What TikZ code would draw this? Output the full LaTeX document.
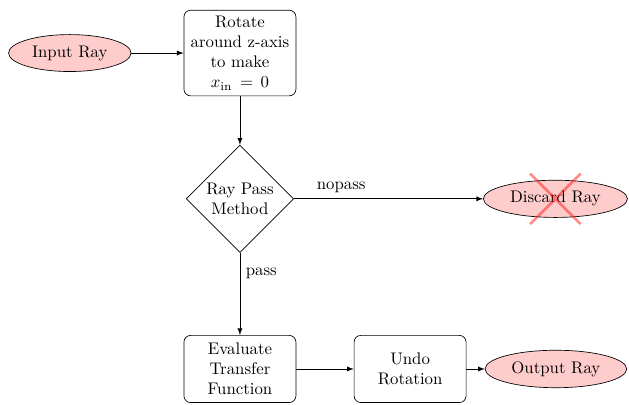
\documentclass[tikz,border=0pt]{standalone}
\usepackage{amsmath}
\usepackage{xcolor}
\usepackage{tikz}
\usetikzlibrary{shapes.geometric,shapes.misc}

\tikzset{
	block/.style={rectangle, draw, text width=6em, text centered, rounded corners, minimum height=4em},
	decision/.style={diamond, draw, text width=4.5em, text badly centered, inner sep=0pt},
	cloud/.style={draw, ellipse, fill=red!20, minimum height=2em},
	line/.style={draw, -latex}
}

\begin{document}
\begin{tikzpicture}

	\useasboundingbox (0,0) rectangle (13.16,-8.47);

	\node[cloud] (input) at (1.46,-1.11) {Input Ray};
	\node[block] (rotate) at (5.02,-1.11) {Rotate around z-axis to make $x_{\mathrm{in}} = 0$};
	\node[decision] (method) at (5.02,-4.16) {Ray Pass Method};
	\node[cloud] (discard) at (11.62,-4.16) {Discard Ray};
	\node[cross out, draw=red, opacity=0.45, ultra thick, minimum size=1cm] (nomark) at (discard) {};
	\node[block] (evaluate) at (5.02,-7.72) {Evaluate Transfer Function};
	\node[block] (undo) at (8.58,-7.72) {Undo Rotation};
	\node[cloud] (output) at (11.63,-7.72) {Output Ray};
	
	\path[line] (input) -- (rotate);
	\path[line] (rotate) -- (method);
	\path[line] (method) -- node[near start, above] {nopass} (discard);
	\path[line] (method) -- node[near start, right] {pass} (evaluate);
	\path[line] (evaluate) -- (undo);
	\path[line] (undo) -- (output);
\end{tikzpicture}
\end{document}
